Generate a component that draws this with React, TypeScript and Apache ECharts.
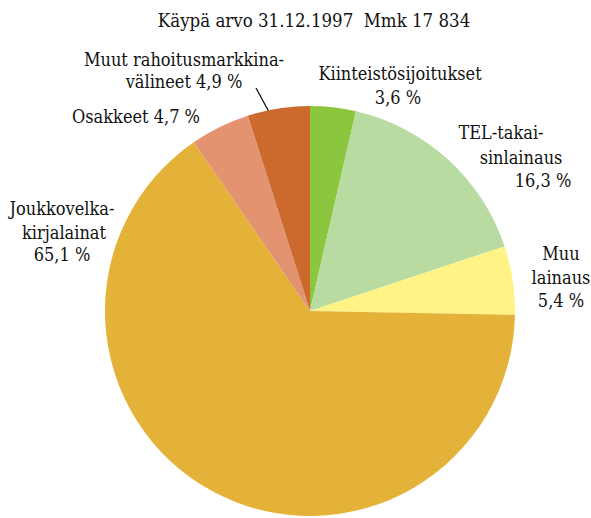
import React, { useEffect, useRef } from "react";
import * as echarts from "echarts";

const title = "Käypä arvo 31.12.1997  Mmk 17 834";
const categories = [
  "Kiinteistösijoitukset",
  "TEL-takaisinlainaus",
  "Muu lainaus",
  "Joukkovelkakirjalainat",
  "Osakkeet",
  "Muut rahoitusmarkkinavälineet",
];
const values = [3.6, 16.3, 5.4, 65.1, 4.7, 4.9];
const colors = ["#8cc63f", "#b7dba0", "#fff385", "#e5b239", "#e39370", "#cc6a2d"];
// label text lines; {v} is replaced with the formatted value
const labelLines = [
  ["Kiinteistösijoitukset", "{v}"],
  ["TEL-takai-", "sinlainaus", "{v}"],
  ["Muu", "lainaus", "{v}"],
  ["Joukkovelka-", "kirjalainat", "{v}"],
  ["Osakkeet {v}"],
  ["Muut rahoitusmarkkina-", "välineet {v}"],
];

// layout: per-line centre positions
const labelPos = [
  [[400, 73], [398, 97]],
  [[501, 132], [521, 157], [543, 180]],
  [[561, 253], [561, 277], [561, 300]],
  [[62, 208], [64, 232], [62, 254]],
  [[136, 116]],
  [[184, 59], [184, 81]],
];

const fmt = (v: number) => v.toFixed(1).replace(".", ",") + " %";
const FONT = "18px DejaVu Serif Condensed";

export default function App() {
  const ref = useRef<HTMLDivElement>(null);
  useEffect(() => {
    const chart = echarts.init(ref.current!, null, { renderer: "svg" });
    const graphics: any[] = [
      {
        type: "text",
        x: 314,
        y: 20,
        style: {
          text: title,
          font: "18.5px DejaVu Serif Condensed",
          fill: "#111",
          align: "center",
          verticalAlign: "middle",
        },
      },
      {
        type: "line",
        shape: { x1: 256, y1: 88, x2: 269, y2: 112 },
        style: { stroke: "#111", lineWidth: 1.3 },
      },
    ];
    labelLines.forEach((lines, i) => {
      lines.forEach((ln, j) => {
        const [x, y] = labelPos[i][j];
        graphics.push({
          type: "text",
          x,
          y,
          style: {
            text: ln.replace("{v}", fmt(values[i])),
            font: FONT,
            fill: "#111",
            align: "center",
            verticalAlign: "middle",
          },
        });
      });
    });
    chart.setOption({
      animation: false,
      graphic: graphics,
      series: [
        {
          type: "pie",
          center: [310, 311],
          radius: 205,
          startAngle: 90,
          clockwise: true,
          label: { show: false },
          labelLine: { show: false },
          emphasis: { disabled: true },
          data: categories.map((c, i) => ({
            name: c,
            value: values[i],
            itemStyle: { color: colors[i] },
          })),
        },
      ],
    });
    return () => chart.dispose();
  }, []);
  return (
    <div
      ref={ref}
      style={{ width: 591, height: 518, position: "absolute", left: 0, top: 0 }}
    />
  );
}
